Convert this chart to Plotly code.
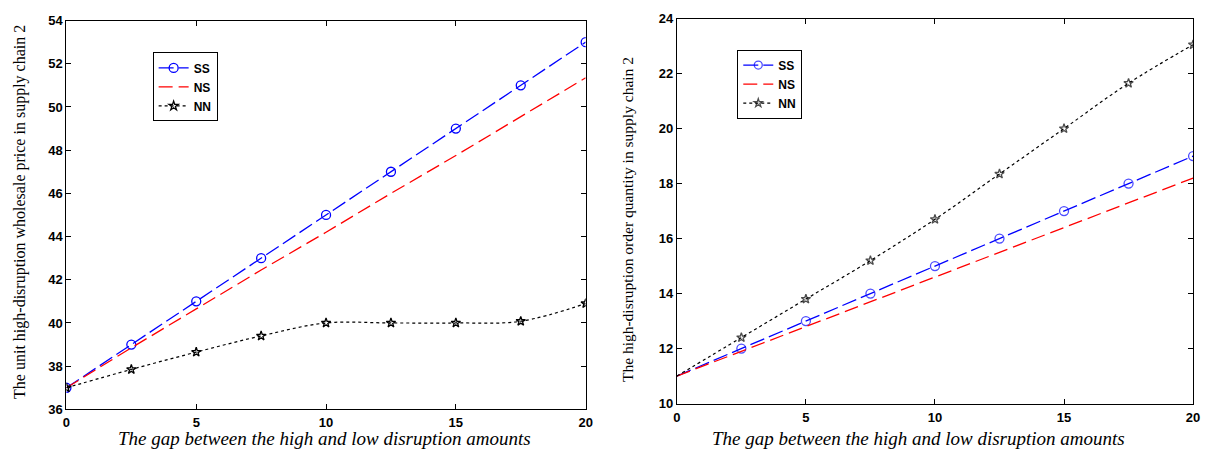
import plotly.graph_objects as go

x_gap = [0, 2.5, 5, 7.5, 10, 12.5, 15, 17.5, 20]

price_ss = [37, 39, 41, 43, 45, 47, 49, 51, 53]
price_ns = [37, 38.85, 40.65, 42.45, 44.2, 46.0, 47.75, 49.55, 51.35]
price_nn = [37, 37.85, 38.65, 39.4, 40.0, 40.0, 40.0, 40.08, 40.9]

qty_ss = [11, 12, 13, 14, 15, 16, 17, 18, 19]
qty_ns = [11, 11.9, 12.8, 13.7, 14.6, 15.5, 16.4, 17.3, 18.2]
qty_nn = [11, 12.4, 13.8, 15.2, 16.7, 18.35, 20.0, 21.65, 23.05]

x_ticks = [0, 5, 10, 15, 20]
left_yticks = [36, 38, 40, 42, 44, 46, 48, 50, 52, 54]
right_yticks = [10, 12, 14, 16, 18, 20, 22, 24]

x_title = "The gap between the high and low disruption amounts"
left_ytitle = "The unit high-disruption wholesale price in supply chain 2"
right_ytitle = "The high-disruption order quantity in supply chain 2"

W, H = 1210, 458
fig = go.Figure()

def add_set(ss, ns, nn, xa, ya, leg, ss_sizes, nn_sizes):
    fig.add_trace(go.Scatter(x=x_gap, y=ss, name="SS", mode="lines+markers", xaxis=xa, yaxis=ya, legend=leg,
                             line=dict(color="#0000ff", width=1.3, dash="15px,5px"),
                             marker=dict(symbol="circle-open", size=ss_sizes, color="#0000ff", line=dict(width=1.3))))
    fig.add_trace(go.Scatter(x=x_gap, y=ns, name="NS", mode="lines", xaxis=xa, yaxis=ya, legend=leg,
                             line=dict(color="#ff0000", width=1.3, dash="14px,6px")))
    fig.add_trace(go.Scatter(x=x_gap, y=nn, name="NN", mode="lines+markers", xaxis=xa, yaxis=ya, legend=leg,
                             line=dict(color="black", width=1.2, dash="3px,3px", shape="spline"),
                             marker=dict(symbol="star-open", size=nn_sizes, color="black", line=dict(width=1.3))))

add_set(price_ss, price_ns, price_nn, "x", "y", "legend", 9, 7)
add_set(qty_ss, qty_ns, qty_nn, "x2", "y2", "legend2", [0] + [9] * 8, [0] + [7] * 8)

tickfont = dict(family="Liberation Sans", size=13, color="black", weight="bold")
ax_common = dict(showgrid=False, zeroline=False, showline=True, linecolor="black", linewidth=1,
                 mirror="ticks", ticks="inside", ticklen=5, tickcolor="black", tickfont=tickfont)

legfont = dict(family="Liberation Sans", size=12, color="black", weight="bold")

fig.update_layout(
    width=W, height=H, margin=dict(l=0, r=0, t=0, b=0),
    paper_bgcolor="white", plot_bgcolor="white",
    xaxis=dict(domain=[63 / W, 587 / W], range=[0, 20], tickvals=x_ticks, anchor="y",
               ticklabelstandoff=1, **ax_common),
    yaxis=dict(domain=[(H - 416) / H, (H - 14) / H], range=[36, 54], tickvals=left_yticks, anchor="x", **ax_common),
    xaxis2=dict(domain=[679 / W, 1200 / W], range=[0, 20], tickvals=x_ticks, anchor="y2",
                ticklabelstandoff=2, **ax_common),
    yaxis2=dict(domain=[(H - 410) / H, (H - 12) / H], range=[10, 24], tickvals=right_yticks, anchor="x2", **ax_common),
    legend=dict(x=150 / W, y=1 - 47 / H, xanchor="left", yanchor="top", bordercolor="black", borderwidth=1,
                bgcolor="white", font=legfont, tracegroupgap=0, itemwidth=30),
    legend2=dict(x=740 / W, y=1 - 44 / H, xanchor="left", yanchor="top", bordercolor="black", borderwidth=1,
                 bgcolor="white", font=legfont, tracegroupgap=0, itemwidth=30),
    annotations=[
        dict(text=x_title, x=323 / W, y=1 - 446 / H, xref="paper", yref="paper", showarrow=False,
             xanchor="center", yanchor="middle",
             font=dict(family="Liberation Serif", size=19, color="black", style="italic")),
        dict(text=x_title, x=923 / W, y=1 - 446 / H, xref="paper", yref="paper", showarrow=False,
             xanchor="center", yanchor="middle",
             font=dict(family="Liberation Serif", size=19, color="black", style="italic")),
        dict(text=left_ytitle, x=16 / W, y=1 - 212 / H, xref="paper", yref="paper", showarrow=False, textangle=-90,
             xanchor="center", yanchor="middle",
             font=dict(family="Liberation Serif", size=16, color="black")),
        dict(text=right_ytitle, x=630 / W, y=1 - 220 / H, xref="paper", yref="paper", showarrow=False, textangle=-90,
             xanchor="center", yanchor="middle",
             font=dict(family="Liberation Serif", size=15.5, color="black")),
    ],
)

fig.write_html("out.html")
